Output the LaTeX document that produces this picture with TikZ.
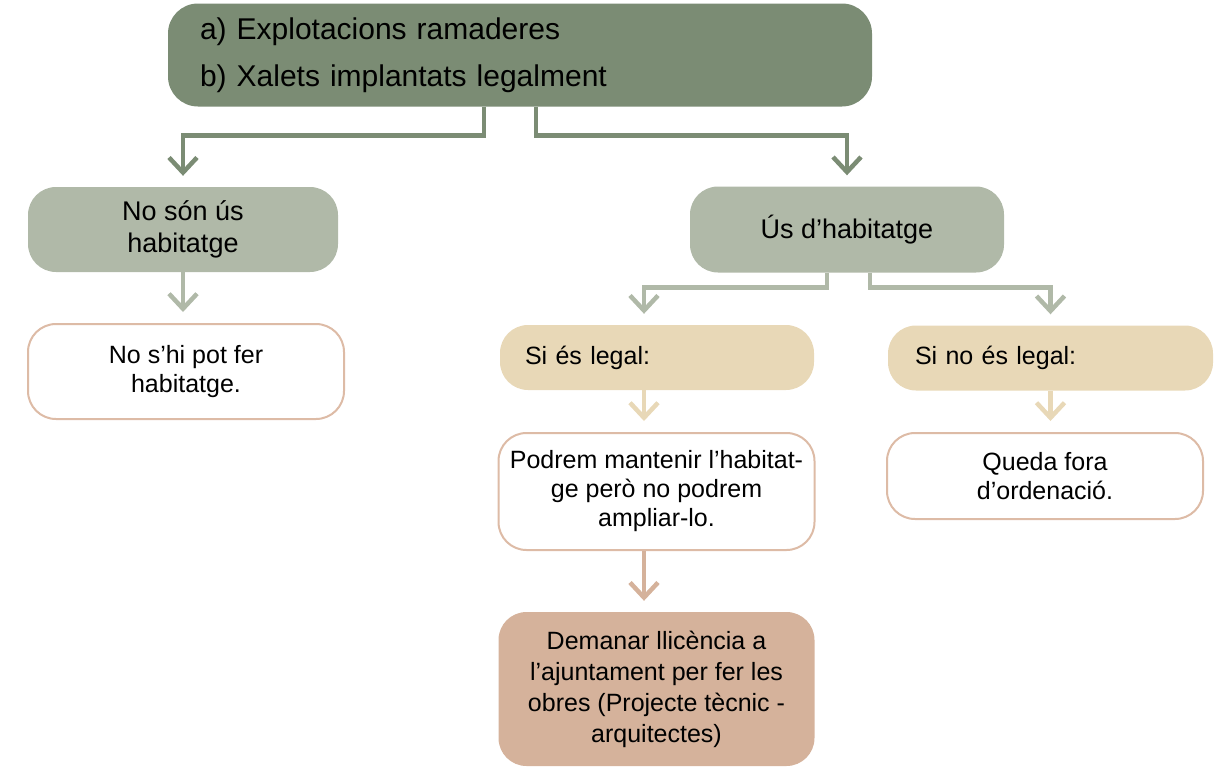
\documentclass[tikz,border=0pt]{standalone}
\usepackage{fontspec}
\setmainfont{Liberation Sans}
\usepackage{tikz}
\usetikzlibrary{arrows.meta}

\definecolor{darkgreen}{RGB}{123,140,116}
\definecolor{lightgreen}{RGB}{176,185,168}
\definecolor{beige}{RGB}{232,216,183}
\definecolor{rosy}{RGB}{221,187,166}
\definecolor{tan}{RGB}{213,178,155}

\begin{document}
\begin{tikzpicture}[x=1pt,y=-1pt,
		topbox/.style={fill=darkgreen, rounded corners=30pt, minimum width=704pt, minimum height=103pt,
			text width=640pt, inner xsep=32pt, align=left, font=\fontsize{30}{47}\selectfont},
		grbox/.style={fill=lightgreen, rounded corners=28pt, minimum width=310pt, align=center,
			font=\fontsize{27}{32}\selectfont},
		whbox/.style={draw=rosy, line width=2pt, fill=white, rounded corners=28pt, minimum width=316pt,
			align=center, font=\fontsize{25}{29}\selectfont},
		bgbox/.style={fill=beige, rounded corners=28pt, minimum width=314pt, minimum height=65pt,
			text width=264pt, inner xsep=25pt, align=left, font=\fontsize{25}{29}\selectfont},
		tanbox/.style={fill=tan, rounded corners=28pt, minimum width=316pt, align=center,
			font=\fontsize{25}{31}\selectfont},
		link/.style={line width=4.5pt, shorten >=11pt, -{Straight Barb[length=15pt,width=28pt]}}]
		\useasboundingbox (0,0) rectangle (1224,769);
		\node[topbox] (top) at (520,55) {a) Explotacions ramaderes\\b) Xalets implantats legalment};
		\node[grbox, minimum height=85pt] (noson) at (183,229.5) {No són ús\\habitatge};
		\node[grbox, minimum width=314pt, minimum height=86pt] (us) at (847,229.5) {Ús d’habitatge};
		\node[whbox, minimum height=95pt] (nopot) at (186,371.5) {No s’hi pot fer\\habitatge.};
		\node[bgbox] (sileg) at (657,357.5) {Si és legal:};
		\node[bgbox, minimum width=325pt, text width=271pt, inner xsep=27pt] (sinoleg) at (1050.5,358) {Si no és legal:};
		\node[whbox, minimum height=117pt] (podrem) at (656.5,491.5) {Podrem mantenir l’habitat-\\ge però no podrem\\ampliar-lo.};
		\node[whbox, minimum height=86pt] (queda) at (1045,476) {Queda fora\\d’ordenació.};
		\node[tanbox, minimum height=154pt] (demanar) at (656.5,689) {Demanar llicència a\\l’ajuntament per fer les\\obres (Projecte tècnic -\\arquitectes)};
		% connectors
		\draw[link, darkgreen] ([xshift=-36pt]top.south) -- ++(0,29) -| (noson.north);
		\draw[link, darkgreen] ([xshift=16pt]top.south) -- ++(0,29) -| (us.north);
		\draw[link, lightgreen] (noson.south) -- (noson.south |- nopot.north);
		\draw[link, lightgreen] ([xshift=-20pt]us.south) -- ++(0,15) -| ([xshift=-13pt]sileg.north);
		\draw[link, lightgreen] ([xshift=23pt]us.south) -- ++(0,15) -| (sinoleg.north);
		\draw[link, beige] ([xshift=-13pt]sileg.south) -- ([xshift=-13pt]sileg.south |- podrem.north);
		\draw[link, beige] (sinoleg.south) -- (sinoleg.south |- queda.north);
		\draw[link, tan] ([xshift=-12.5pt]podrem.south) -- ([xshift=-12.5pt]podrem.south |- demanar.north);
\end{tikzpicture}
\end{document}
